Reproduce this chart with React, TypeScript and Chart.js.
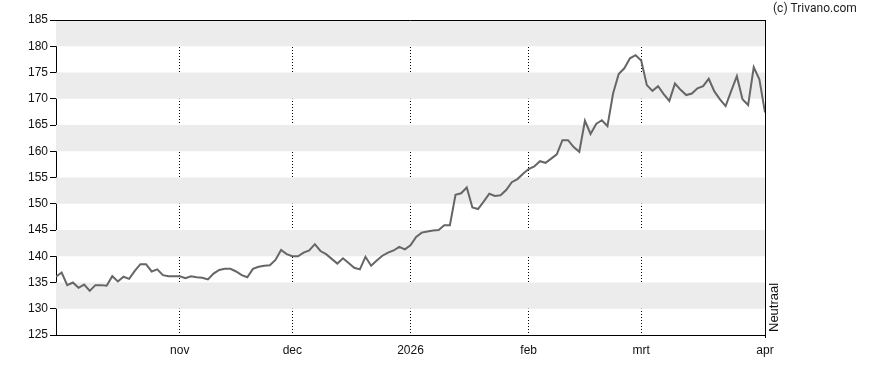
import React, { useEffect, useRef } from "react";
import { Chart, registerables } from "chart.js";

Chart.register(...registerables);

// Trading-day closing values (Oct 2 2025 .. Apr 1 2026)
const closeValues: number[] = [
  136.1, 136.9, 134.5, 135.0, 134.0, 134.6, 133.4, 134.5, 134.5, 134.4,
  136.2, 135.2, 136.1, 135.7, 137.2, 138.5, 138.5, 137.1, 137.5, 136.4,
  136.2, 136.2, 136.2, 135.8, 136.2, 136.0, 135.9, 135.6, 136.7, 137.4,
  137.6, 137.6, 137.1, 136.4, 136.0, 137.6, 138.0, 138.2, 138.3, 139.3,
  141.2, 140.4, 140.0, 140.0, 140.7, 141.1, 142.3, 141.0, 140.4, 139.5,
  138.6, 139.6, 138.7, 137.8, 137.5, 139.9, 138.2, 139.2, 140.1, 140.7,
  141.1, 141.8, 141.3, 142.1, 143.7, 144.5, 144.7, 144.9, 145.0, 145.9,
  145.9, 151.7, 152.0, 153.1, 149.3, 149.0, 150.4, 151.9, 151.5, 151.6,
  152.6, 154.1, 154.7, 155.7, 156.6, 157.1, 158.1, 157.8, 158.6, 159.4,
  162.1, 162.1, 160.8, 159.9, 165.8, 163.3, 165.2, 165.9, 164.8, 171.0,
  174.7, 175.8, 177.7, 178.3, 177.3, 172.6, 171.5, 172.4, 170.9, 169.6,
  172.9, 171.7, 170.7, 171.0, 172.0, 172.4, 173.8, 171.4, 169.9, 168.6,
  171.5, 174.3, 169.9, 168.8, 176.0, 173.7, 167.4,
];

// Trading-day index where each month starts, and its label
const monthStartIndex: number[] = [22, 42, 63, 84, 104, 126];
const monthLabels: string[] = ["nov", "dec", "2026", "feb", "mrt", "apr"];

const yMin = 125;
const yMax = 185;
const yStep = 5;

const TICK_FONT = { family: "Arial, 'Liberation Sans', sans-serif", size: 12 };

const decorPlugin = {
  id: "decor",
  beforeDatasetsDraw(chart: any) {
    const { ctx, chartArea, scales } = chart;
    const y = scales.y;
    ctx.save();
    ctx.fillStyle = "#ececec";
    for (let v = yMin + yStep; v < yMax; v += yStep * 2) {
      const top = y.getPixelForValue(v + yStep);
      const bot = y.getPixelForValue(v);
      ctx.fillRect(chartArea.left, top, chartArea.right - chartArea.left, bot - top);
    }
    ctx.restore();
  },
  afterDraw(chart: any) {
    const { ctx, chartArea } = chart;
    ctx.save();
    ctx.strokeStyle = "#000";
    ctx.lineWidth = 1;
    ctx.beginPath();
    ctx.moveTo(chartArea.left, Math.round(chartArea.top) + 0.5);
    ctx.lineTo(chartArea.right, Math.round(chartArea.top) + 0.5);
    ctx.moveTo(Math.round(chartArea.right) + 0.5, chartArea.top);
    ctx.lineTo(Math.round(chartArea.right) + 0.5, chartArea.bottom + 3);
    ctx.stroke();

    ctx.fillStyle = "#111";
    ctx.font = "13px Arial, 'Liberation Sans', sans-serif";
    ctx.translate(chartArea.right + 9, chartArea.bottom - 3);
    ctx.rotate(-Math.PI / 2);
    ctx.textAlign = "left";
    ctx.textBaseline = "middle";
    ctx.fillText("Neutraal", 0, 0);
    ctx.restore();

    ctx.save();
    ctx.fillStyle = "#222";
    ctx.font = "12px Roboto, Arial, sans-serif";
    ctx.textAlign = "left";
    ctx.textBaseline = "middle";
    ctx.fillText("(c) Trivano.com", 773, 9);
    ctx.restore();
  },
};

export default function App() {
  const canvasRef = useRef<HTMLCanvasElement | null>(null);

  useEffect(() => {
    if (!canvasRef.current) return;
    const chart = new Chart(canvasRef.current, {
      type: "line",
      data: {
        datasets: [
          {
            data: closeValues.map((v, i) => ({ x: i, y: v })),
            borderColor: "#666666",
            borderWidth: 2,
            pointRadius: 0,
            tension: 0,
            fill: false,
          },
        ],
      },
      options: {
        animation: false,
        responsive: false,
        maintainAspectRatio: false,
        layout: { padding: { left: 0, top: 20, right: 123, bottom: 0 } },
        plugins: { legend: { display: false }, tooltip: { enabled: false } },
        scales: {
          x: {
            type: "linear",
            min: 0,
            max: closeValues.length - 1,
            afterBuildTicks: (scale: any) => {
              scale.ticks = monthStartIndex.map((v) => ({ value: v }));
            },
            afterFit: (scale: any) => {
              scale.height = 35;
            },
            ticks: {
              autoSkip: false,
              maxRotation: 0,
              padding: 8,
              color: "#111",
              font: TICK_FONT,
              callback: (value: any) => {
                const k = monthStartIndex.indexOf(Number(value));
                return k >= 0 ? monthLabels[k] : "";
              },
            },
            grid: {
              drawTicks: false,
              lineWidth: 1,
              color: (ctx: any) =>
                ctx.tick && ctx.tick.value === closeValues.length - 1 ? "rgba(0,0,0,0)" : "#000",
            },
            border: { display: true, color: "#000", width: 1, dash: [1, 2] },
          },
          y: {
            type: "linear",
            min: yMin,
            max: yMax,
            afterFit: (scale: any) => {
              scale.width = 56;
            },
            ticks: {
              stepSize: yStep,
              padding: 2,
              color: "#111",
              font: TICK_FONT,
            },
            grid: {
              drawOnChartArea: false,
              drawTicks: true,
              tickLength: 6,
              color: "#000",
            },
            border: { display: true, color: "#000", width: 1 },
          },
        },
      },
      plugins: [decorPlugin],
    });
    return () => chart.destroy();
  }, []);

  return (
    <div style={{ position: "fixed", left: 0, top: 0, width: 888, height: 370, background: "#fff" }}>
      <canvas ref={canvasRef} width={888} height={370} style={{ display: "block" }} />
    </div>
  );
}
